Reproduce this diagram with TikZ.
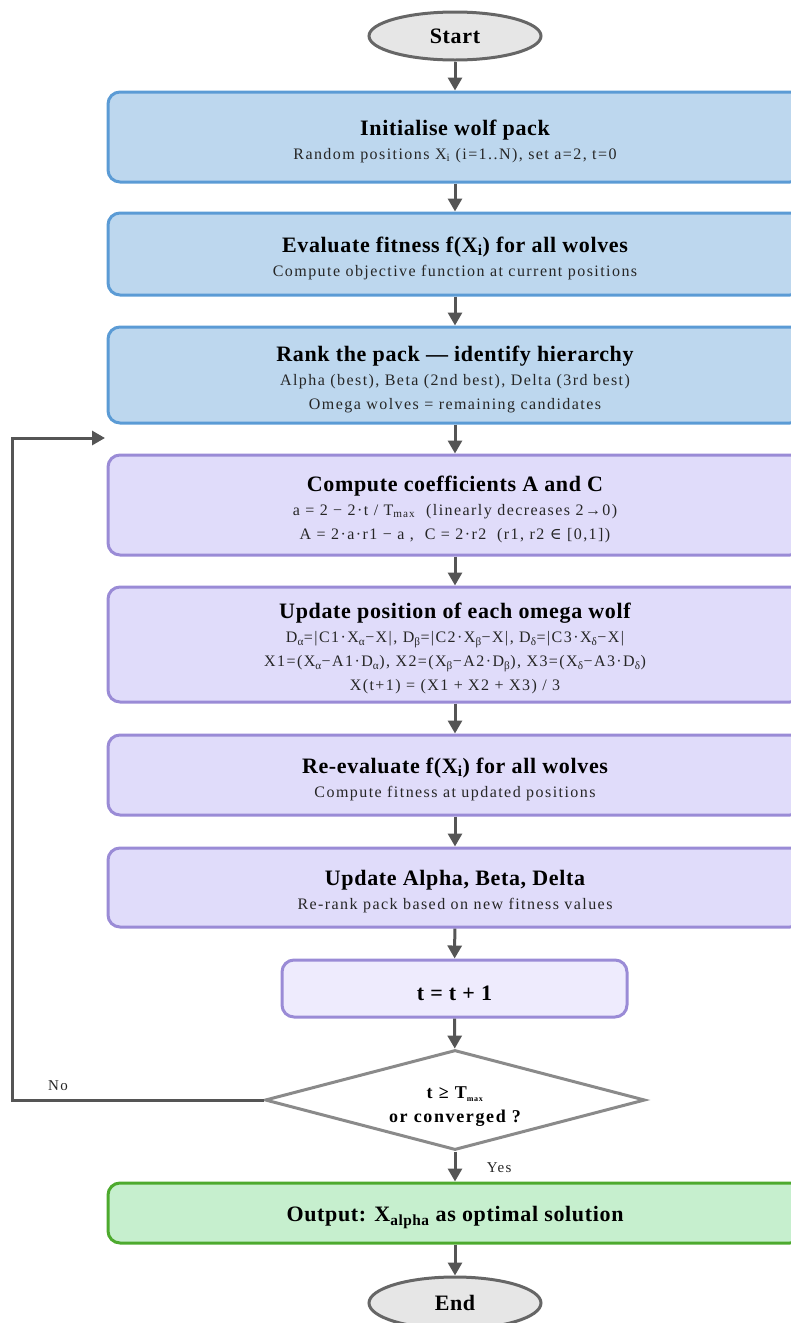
\documentclass[tikz,border=0pt]{standalone}
\usepackage{fontspec}
\setmainfont{Liberation Serif}[LetterSpace=9]
\newfontfamily\headfont{Liberation Serif}[LetterSpace=3]
\newfontfamily\symfont{DejaVu Serif}
\usetikzlibrary{arrows.meta,shapes.geometric}

\definecolor{bluefill}{HTML}{BDD7EE}
\definecolor{blueline}{HTML}{5B9BD5}
\definecolor{lilacfill}{HTML}{E0DCFA}
\definecolor{lilacline}{HTML}{9A8BD6}
\definecolor{palefill}{HTML}{EEEBFD}
\definecolor{greenfill}{HTML}{C6EFCE}
\definecolor{greenline}{HTML}{4DAA2E}
\definecolor{termfill}{HTML}{E6E6E6}
\definecolor{termline}{HTML}{666666}
\definecolor{arrowcol}{HTML}{555555}
\definecolor{diamline}{HTML}{8A8A8A}
\definecolor{subtext}{HTML}{262626}

% bold heading line; the strut lowers the text block a little
\newcommand\ttl[1]{{\headfont\fontsize{22}{24}\selectfont\bfseries\color{black}\rule{0pt}{24pt}#1}}
\newcommand\sbs[1]{\textsubscript{#1}}

\tikzset{
  x=1pt, y=-1pt,
  every node/.style={font=\fontsize{16}{24}\selectfont, text=subtext},
  stepbox/.style={rectangle, rounded corners=12pt, line width=3pt,
    minimum width=694pt, align=center, inner sep=0pt},
  bluebox/.style={stepbox, fill=bluefill, draw=blueline},
  lilacbox/.style={stepbox, fill=lilacfill, draw=lilacline},
  greenbox/.style={stepbox, fill=greenfill, draw=greenline},
  terminal/.style={ellipse, fill=termfill, draw=termline, line width=3pt,
    minimum width=172pt, inner sep=0pt, text=black,
    font=\headfont\fontsize{22}{24}\selectfont\bfseries},
  decision/.style={diamond, aspect=3.8, fill=white, draw=diamline, line width=3pt,
    minimum width=380pt, minimum height=100pt, inner sep=0pt, align=center,
    text=black, font=\fontsize{18}{24}\selectfont\bfseries},
  flow/.style={draw=arrowcol, line width=3pt,
    -{Triangle[length=13pt,width=14pt]}},
  lbl/.style={font=\fontsize{15}{17}\selectfont}
}

\begin{document}
\begin{tikzpicture}
\useasboundingbox (0,0) rectangle (791,1323);

\node[terminal, minimum height=48pt] (start) at (455,36) {Start};

\node[bluebox, minimum height=90pt] (init) at (455,137)
  {\ttl{Initialise wolf pack}\\ Random positions X\sbs{i} (i=1..N), set a=2, t=0};

\node[bluebox, minimum height=82pt] (eval) at (455,254)
  {\ttl{Evaluate fitness f(X\sbs{i}) for all wolves}\\ Compute objective function at current positions};

\node[bluebox, minimum height=96pt] (rank) at (455,375)
  {\ttl{Rank the pack — identify hierarchy}\\ Alpha (best), Beta (2nd best), Delta (3rd best)\\ Omega wolves = remaining candidates};

\node[lilacbox, minimum height=100pt] (coef) at (455,505)
  {\ttl{Compute coefficients A and C}\\
   a = 2 − 2·t / T\sbs{max}\ \ (linearly decreases 2→0)\\
   A = 2·a·r1 − a ,\ \ C = 2·r2\ \ (r1, r2 {\symfont ∈} [0,1])};

\node[lilacbox, minimum height=115pt] (move) at (455,644.5)
  {\ttl{Update position of each omega wolf}\\
   D\sbs{α}=|C1·X\sbs{α}−X|, D\sbs{β}=|C2·X\sbs{β}−X|, D\sbs{δ}=|C3·X\sbs{δ}−X|\\
   X1=(X\sbs{α}−A1·D\sbs{α}), X2=(X\sbs{β}−A2·D\sbs{β}), X3=(X\sbs{δ}−A3·D\sbs{δ})\\
   X(t+1) = (X1 + X2 + X3) / 3};

\node[lilacbox, minimum height=80pt] (reeval) at (455,775)
  {\ttl{Re-evaluate f(X\sbs{i}) for all wolves}\\ Compute fitness at updated positions};

\node[lilacbox, minimum height=79pt] (rerank) at (455,887.5)
  {\ttl{Update Alpha, Beta, Delta}\\ Re-rank pack based on new fitness values};

\node[stepbox, fill=palefill, draw=lilacline, minimum width=345pt,
      minimum height=57pt] (incr) at (454.5,988.5) {\ttl{t = t + 1}};

\node[decision] (check) at (455,1100)
  {\rule{0pt}{25pt}t ≥ T\sbs{\fontsize{8}{8}\selectfont max}\\ or converged ?};

\node[greenbox, minimum height=60pt] (out) at (455,1213)
  {\ttl{Output: X\sbs{alpha} as optimal solution}};

\node[terminal, minimum height=52pt] (end) at (455,1303) {End};

% main flow
\draw[flow] (start) -- (init);
\draw[flow] (init) -- (eval);
\draw[flow] (eval) -- (rank);
\draw[flow] (rank) -- (coef);
\draw[flow] (coef) -- (move);
\draw[flow] (move) -- (reeval);
\draw[flow] (reeval) -- (rerank);
\draw[flow] (rerank) -- (incr);
\draw[flow] (incr) -- (check);
\draw[flow] (check) -- node[lbl, right, xshift=27pt, yshift=-1pt] (yes) {Yes} (out);
\draw[flow] (out) -- (end);

% loop back when not finished
\coordinate (loopend) at (105,438);
\draw[flow] (check.west) -- (12,1100) |- (loopend);
\node[lbl] (no) at (58,1086) {No};

\end{tikzpicture}
\end{document}
